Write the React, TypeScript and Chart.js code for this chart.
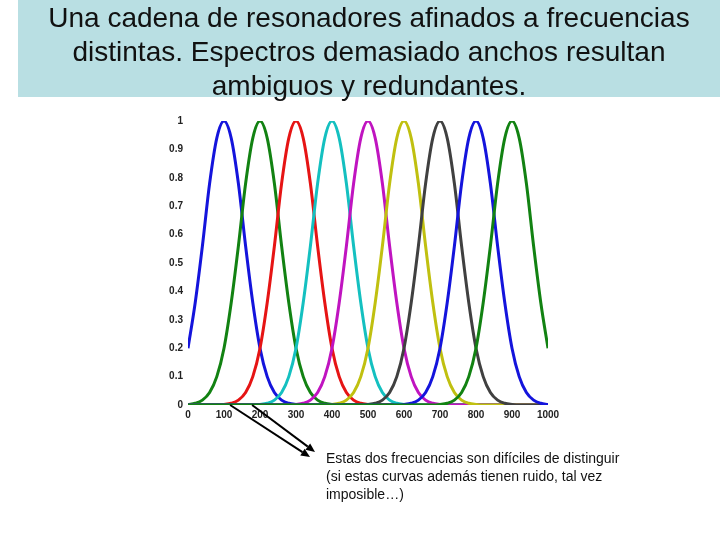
import React, { useEffect, useRef } from "react";
import { Chart, registerables } from "chart.js";

Chart.register(...registerables);

const TITLE_LINES = [
  "Una cadena de resonadores afinados a frecuencias",
  "distintas. Espectros demasiado anchos resultan",
  "ambiguos y redundantes.",
];

const NOTE_LINES = [
  "Estas dos frecuencias son difíciles de distinguir",
  "(si estas curvas además tienen ruido, tal vez",
  "imposible…)",
];

// Frequency sample positions (x axis)
const FREQS = [
  0, 20, 40, 60, 80, 100, 120, 140, 160, 180,
  200, 220, 240, 260, 280, 300, 320, 340, 360, 380,
  400, 420, 440, 460, 480, 500, 520, 540, 560, 580,
  600, 620, 640, 660, 680, 700, 720, 740, 760, 780,
  800, 820, 840, 860, 880, 900, 920, 940, 960, 980,
  1000,
];

// Responses of each resonator
const blue100 = [
  0.2, 0.36, 0.56, 0.78, 0.94, 1, 0.94, 0.78, 0.56, 0.36,
  0.2, 0.1, 0.044, 0.017, 0.006, 0.002, 0, 0, 0, 0,
  0, 0, 0, 0, 0, 0, 0, 0, 0, 0,
  0, 0, 0, 0, 0, 0, 0, 0, 0, 0,
  0, 0, 0, 0, 0, 0, 0, 0, 0, 0,
  0,
];
const green200 = [
  0.002, 0.006, 0.017, 0.044, 0.1, 0.2, 0.36, 0.56, 0.78, 0.94,
  1, 0.94, 0.78, 0.56, 0.36, 0.2, 0.1, 0.044, 0.017, 0.006,
  0.002, 0, 0, 0, 0, 0, 0, 0, 0, 0,
  0, 0, 0, 0, 0, 0, 0, 0, 0, 0,
  0, 0, 0, 0, 0, 0, 0, 0, 0, 0,
  0,
];
const red300 = [
  0, 0, 0, 0, 0, 0.002, 0.006, 0.017, 0.044, 0.1,
  0.2, 0.36, 0.56, 0.78, 0.94, 1, 0.94, 0.78, 0.56, 0.36,
  0.2, 0.1, 0.044, 0.017, 0.006, 0.002, 0, 0, 0, 0,
  0, 0, 0, 0, 0, 0, 0, 0, 0, 0,
  0, 0, 0, 0, 0, 0, 0, 0, 0, 0,
  0,
];
const cyan400 = [
  0, 0, 0, 0, 0, 0, 0, 0, 0, 0,
  0.002, 0.006, 0.017, 0.044, 0.1, 0.2, 0.36, 0.56, 0.78, 0.94,
  1, 0.94, 0.78, 0.56, 0.36, 0.2, 0.1, 0.044, 0.017, 0.006,
  0.002, 0, 0, 0, 0, 0, 0, 0, 0, 0,
  0, 0, 0, 0, 0, 0, 0, 0, 0, 0,
  0,
];
const magenta500 = [
  0, 0, 0, 0, 0, 0, 0, 0, 0, 0,
  0, 0, 0, 0, 0, 0.002, 0.006, 0.017, 0.044, 0.1,
  0.2, 0.36, 0.56, 0.78, 0.94, 1, 0.94, 0.78, 0.56, 0.36,
  0.2, 0.1, 0.044, 0.017, 0.006, 0.002, 0, 0, 0, 0,
  0, 0, 0, 0, 0, 0, 0, 0, 0, 0,
  0,
];
const yellow600 = [
  0, 0, 0, 0, 0, 0, 0, 0, 0, 0,
  0, 0, 0, 0, 0, 0, 0, 0, 0, 0,
  0.002, 0.006, 0.017, 0.044, 0.1, 0.2, 0.36, 0.56, 0.78, 0.94,
  1, 0.94, 0.78, 0.56, 0.36, 0.2, 0.1, 0.044, 0.017, 0.006,
  0.002, 0, 0, 0, 0, 0, 0, 0, 0, 0,
  0,
];
const gray700 = [
  0, 0, 0, 0, 0, 0, 0, 0, 0, 0,
  0, 0, 0, 0, 0, 0, 0, 0, 0, 0,
  0, 0, 0, 0, 0, 0.002, 0.006, 0.017, 0.044, 0.1,
  0.2, 0.36, 0.56, 0.78, 0.94, 1, 0.94, 0.78, 0.56, 0.36,
  0.2, 0.1, 0.044, 0.017, 0.006, 0.002, 0, 0, 0, 0,
  0,
];
const blue800 = [
  0, 0, 0, 0, 0, 0, 0, 0, 0, 0,
  0, 0, 0, 0, 0, 0, 0, 0, 0, 0,
  0, 0, 0, 0, 0, 0, 0, 0, 0, 0,
  0.002, 0.006, 0.017, 0.044, 0.1, 0.2, 0.36, 0.56, 0.78, 0.94,
  1, 0.94, 0.78, 0.56, 0.36, 0.2, 0.1, 0.044, 0.017, 0.006,
  0.002,
];
const green900 = [
  0, 0, 0, 0, 0, 0, 0, 0, 0, 0,
  0, 0, 0, 0, 0, 0, 0, 0, 0, 0,
  0, 0, 0, 0, 0, 0, 0, 0, 0, 0,
  0, 0, 0, 0, 0, 0.002, 0.006, 0.017, 0.044, 0.1,
  0.2, 0.36, 0.56, 0.78, 0.94, 1, 0.94, 0.78, 0.56, 0.36,
  0.2,
];

const SERIES = [blue100, green200, red300, cyan400, magenta500, yellow600, gray700, blue800, green900];
const SERIES_LABELS = ["100", "200", "300", "400", "500", "600", "700", "800", "900"];
const COLORS = ["#1414dc", "#128212", "#e61414", "#14c0c0", "#c014c0", "#c0c010", "#404040", "#1414dc", "#128212"];

// Tick labels as printed in the picture
const X_TICK_LABELS = ["0", "100", "200", "300", "400", "500", "600", "700", "800", "900", "1000"];
const Y_TICK_LABELS = ["0", "0.1", "0.2", "0.3", "0.4", "0.5", "0.6", "0.7", "0.8", "0.9", "1"];

// Frequencies where the two annotation arrows start (on the x axis)
const ARROW_FROM = [117, 178];

const FONT = "'Liberation Sans', Arial, sans-serif";

const arrowPlugin = {
  id: "arrows",
  afterDraw(chart: any) {
    const ctx = chart.ctx;
    const xs = chart.scales.x;
    const ys = chart.scales.y;
    const ends = [
      [310, 457],
      [315, 452],
    ];
    ctx.save();
    ctx.strokeStyle = "#000";
    ctx.fillStyle = "#000";
    ctx.lineWidth = 2;
    ARROW_FROM.forEach((f, i) => {
      const x0 = xs.getPixelForValue(f);
      const y0 = ys.getPixelForValue(0);
      const [x1, y1] = ends[i];
      const ang = Math.atan2(y1 - y0, x1 - x0);
      const hl = 9;
      const hw = 4;
      const bx = x1 - hl * Math.cos(ang);
      const by = y1 - hl * Math.sin(ang);
      ctx.beginPath();
      ctx.moveTo(x0, y0);
      ctx.lineTo(bx, by);
      ctx.stroke();
      ctx.beginPath();
      ctx.moveTo(x1, y1);
      ctx.lineTo(bx + hw * Math.sin(ang), by - hw * Math.cos(ang));
      ctx.lineTo(bx - hw * Math.sin(ang), by + hw * Math.cos(ang));
      ctx.closePath();
      ctx.fill();
    });
    ctx.restore();
  },
};

export default function App() {
  const ref = useRef<HTMLCanvasElement>(null);

  useEffect(() => {
    if (!ref.current) return;
    const tickFont = { family: FONT, size: 10, weight: "bold" as const };
    const chart = new Chart(ref.current, {
      type: "line",
      data: {
        datasets: SERIES.map((s, i) => ({
          label: SERIES_LABELS[i],
          data: FREQS.map((f, j) => ({ x: f, y: s[j] })),
          borderColor: COLORS[i],
          backgroundColor: COLORS[i],
          borderWidth: 3,
          pointRadius: 0,
          fill: false,
          cubicInterpolationMode: "monotone" as const,
          order: SERIES.length - i,
        })),
      },
      options: {
        responsive: false,
        animation: false,
        devicePixelRatio: 1,
        layout: { padding: { left: 158, right: 172, top: 121, bottom: 115 } },
        plugins: {
          legend: { display: false },
          tooltip: { enabled: false },
          title: { display: false },
        },
        scales: {
          x: {
            type: "linear",
            min: 0,
            max: 1000,
            afterFit: (s: any) => {
              s.height = 20;
            },
            grid: { display: false, drawTicks: false },
            border: { display: false },
            ticks: {
              stepSize: 100,
              autoSkip: false,
              maxRotation: 0,
              padding: 4,
              color: "#222",
              font: tickFont,
              callback: (_v: any, i: number) => X_TICK_LABELS[i],
            },
          },
          y: {
            type: "linear",
            min: 0,
            max: 1,
            afterFit: (s: any) => {
              s.width = 30;
            },
            grid: { display: false, drawTicks: false },
            border: { display: false },
            ticks: {
              stepSize: 0.1,
              autoSkip: false,
              padding: 5,
              color: "#222",
              font: tickFont,
              callback: (_v: any, i: number) => Y_TICK_LABELS[i],
            },
          },
        },
      },
      plugins: [arrowPlugin],
    });
    return () => chart.destroy();
  }, []);

  return (
    <div
      style={{
        position: "absolute",
        left: 0,
        top: 0,
        width: 720,
        height: 540,
        background: "#fff",
        overflow: "hidden",
      }}
    >
      <canvas ref={ref} width={720} height={540} style={{ position: "absolute", left: 0, top: 0 }} />
      <div
        style={{
          position: "absolute",
          left: 18,
          top: 0,
          width: 702,
          height: 97,
          background: "#b9dfe3",
          textAlign: "center",
          fontFamily: FONT,
          fontSize: 28,
          lineHeight: "34px",
          color: "#111",
          paddingTop: 1,
          boxSizing: "border-box",
        }}
      >
        {TITLE_LINES.map((l, i) => (
          <div key={i}>{l}</div>
        ))}
      </div>
      <div
        style={{
          position: "absolute",
          left: 326,
          top: 449,
          fontFamily: FONT,
          fontSize: 14,
          lineHeight: "18px",
          color: "#111",
          whiteSpace: "nowrap",
        }}
      >
        {NOTE_LINES.map((l, i) => (
          <div key={i}>{l}</div>
        ))}
      </div>
    </div>
  );
}
